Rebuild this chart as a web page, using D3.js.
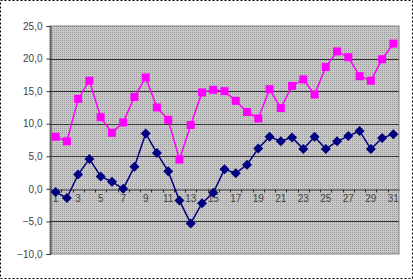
<!DOCTYPE html>
<html>
<head>
<meta charset="utf-8">
<script src="https://cdn.jsdelivr.net/npm/d3@7"></script>
<style>
  html, body { margin: 0; padding: 0; background: #fff; }
  svg { display: block; font-family: "Liberation Sans", Arial, sans-serif; }
</style>
</head>
<body>
<script>
const days = d3.range(1, 32);
const pinkSeries = [8.0, 7.3, 13.8, 16.6, 11.0, 8.6, 10.2, 14.1, 17.1, 12.5, 10.6, 4.5, 9.8, 14.8, 15.2, 15.0, 13.5, 11.8, 10.8, 15.3, 12.4, 15.8, 16.8, 14.5, 18.7, 21.1, 20.2, 17.3, 16.6, 19.9, 22.3];
const navySeries = [-0.5, -1.4, 2.2, 4.6, 1.9, 1.1, 0.0, 3.4, 8.5, 5.5, 2.7, -1.8, -5.3, -2.2, -0.6, 3.0, 2.4, 3.7, 6.2, 8.0, 7.3, 7.9, 6.1, 8.0, 6.1, 7.3, 8.1, 8.9, 6.1, 7.8, 8.4];
const yTicks = [-10, -5, 0, 5, 10, 15, 20, 25];

const width = 413, height = 280;
const plot = { left: 50, right: 399, top: 26, bottom: 254 };

const svg = d3.select("body").append("svg")
  .attr("width", width)
  .attr("height", height);

// dotted grey fill like the old spreadsheet chart
const pat = svg.append("defs").append("pattern")
  .attr("id", "dots")
  .attr("width", 2).attr("height", 2)
  .attr("patternUnits", "userSpaceOnUse");
pat.append("rect").attr("width", 2).attr("height", 2).attr("fill", "#c8c8c8");
pat.append("rect").attr("width", 1).attr("height", 1).attr("fill", "#9a9a9a");

// outer dotted frame
svg.append("rect")
  .attr("x", 0.5).attr("y", 0.5)
  .attr("width", width - 1).attr("height", height - 2)
  .attr("fill", "none")
  .attr("stroke", "#000")
  .attr("stroke-dasharray", "2,2");

const x = d3.scaleBand().domain(days).range([plot.left, plot.right]);
const y = d3.scaleLinear().domain([-10, 25]).range([plot.bottom, plot.top]);
const cx = d => x(d) + x.bandwidth() / 2;

svg.append("rect")
  .attr("x", plot.left).attr("y", plot.top)
  .attr("width", plot.right - plot.left).attr("height", plot.bottom - plot.top)
  .attr("fill", "url(#dots)")
  .attr("stroke", "#808080");

// gridlines
svg.append("g")
  .selectAll("line")
  .data(yTicks.filter(v => v !== 0 && v !== -10 && v !== 25))
  .join("line")
    .attr("x1", plot.left).attr("x2", plot.right)
    .attr("y1", d => Math.round(y(d)) + 0.5).attr("y2", d => Math.round(y(d)) + 0.5)
    .attr("stroke", "#333");

// y axis
const yAxis = svg.append("g")
  .attr("transform", `translate(${plot.left + 0.5},0)`)
  .call(d3.axisLeft(y).tickValues(yTicks).tickSize(4).tickFormat(d => d3.format(".1f")(d).replace(".", ",")));
yAxis.select(".domain").attr("stroke", "#333");
yAxis.selectAll(".tick line").attr("stroke", "#333");
yAxis.selectAll(".tick text").attr("fill", "#444").attr("font-size", 10).attr("x", -8);

// x axis sitting on zero
const zeroY = Math.round(y(0)) + 0.5;
const xAxis = svg.append("g")
  .attr("transform", `translate(0,${zeroY})`)
  .call(d3.axisBottom(x).tickSize(0).tickFormat(d => d % 2 === 1 ? d : ""));
xAxis.select(".domain").attr("stroke", "#333");
xAxis.selectAll(".tick text").attr("fill", "#444").attr("font-size", 10).attr("dy", "0.95em");
xAxis.append("g")
  .selectAll("line")
  .data(days.slice(1))
  .join("line")
    .attr("x1", d => Math.round(x(d)) + 0.5).attr("x2", d => Math.round(x(d)) + 0.5)
    .attr("y1", 0).attr("y2", 3)
    .attr("stroke", "#333");

const line = d3.line().x((d, i) => cx(days[i])).y(d => y(d));

// magenta series
svg.append("path")
  .datum(pinkSeries)
  .attr("d", line)
  .attr("fill", "none")
  .attr("stroke", "#ff00ff")
  .attr("stroke-width", 1.5);
svg.append("g")
  .selectAll("rect")
  .data(pinkSeries)
  .join("rect")
    .attr("x", (d, i) => cx(days[i]) - 4)
    .attr("y", d => y(d) - 4)
    .attr("width", 8).attr("height", 8)
    .attr("fill", "#ff00ff");

// navy series
svg.append("path")
  .datum(navySeries)
  .attr("d", line)
  .attr("fill", "none")
  .attr("stroke", "#000080")
  .attr("stroke-width", 1.5);
svg.append("g")
  .selectAll("path")
  .data(navySeries)
  .join("path")
    .attr("transform", (d, i) => `translate(${cx(days[i])},${y(d)})`)
    .attr("d", "M0,-5L5,0L0,5L-5,0Z")
    .attr("fill", "#000080");
</script>
</body>
</html>
